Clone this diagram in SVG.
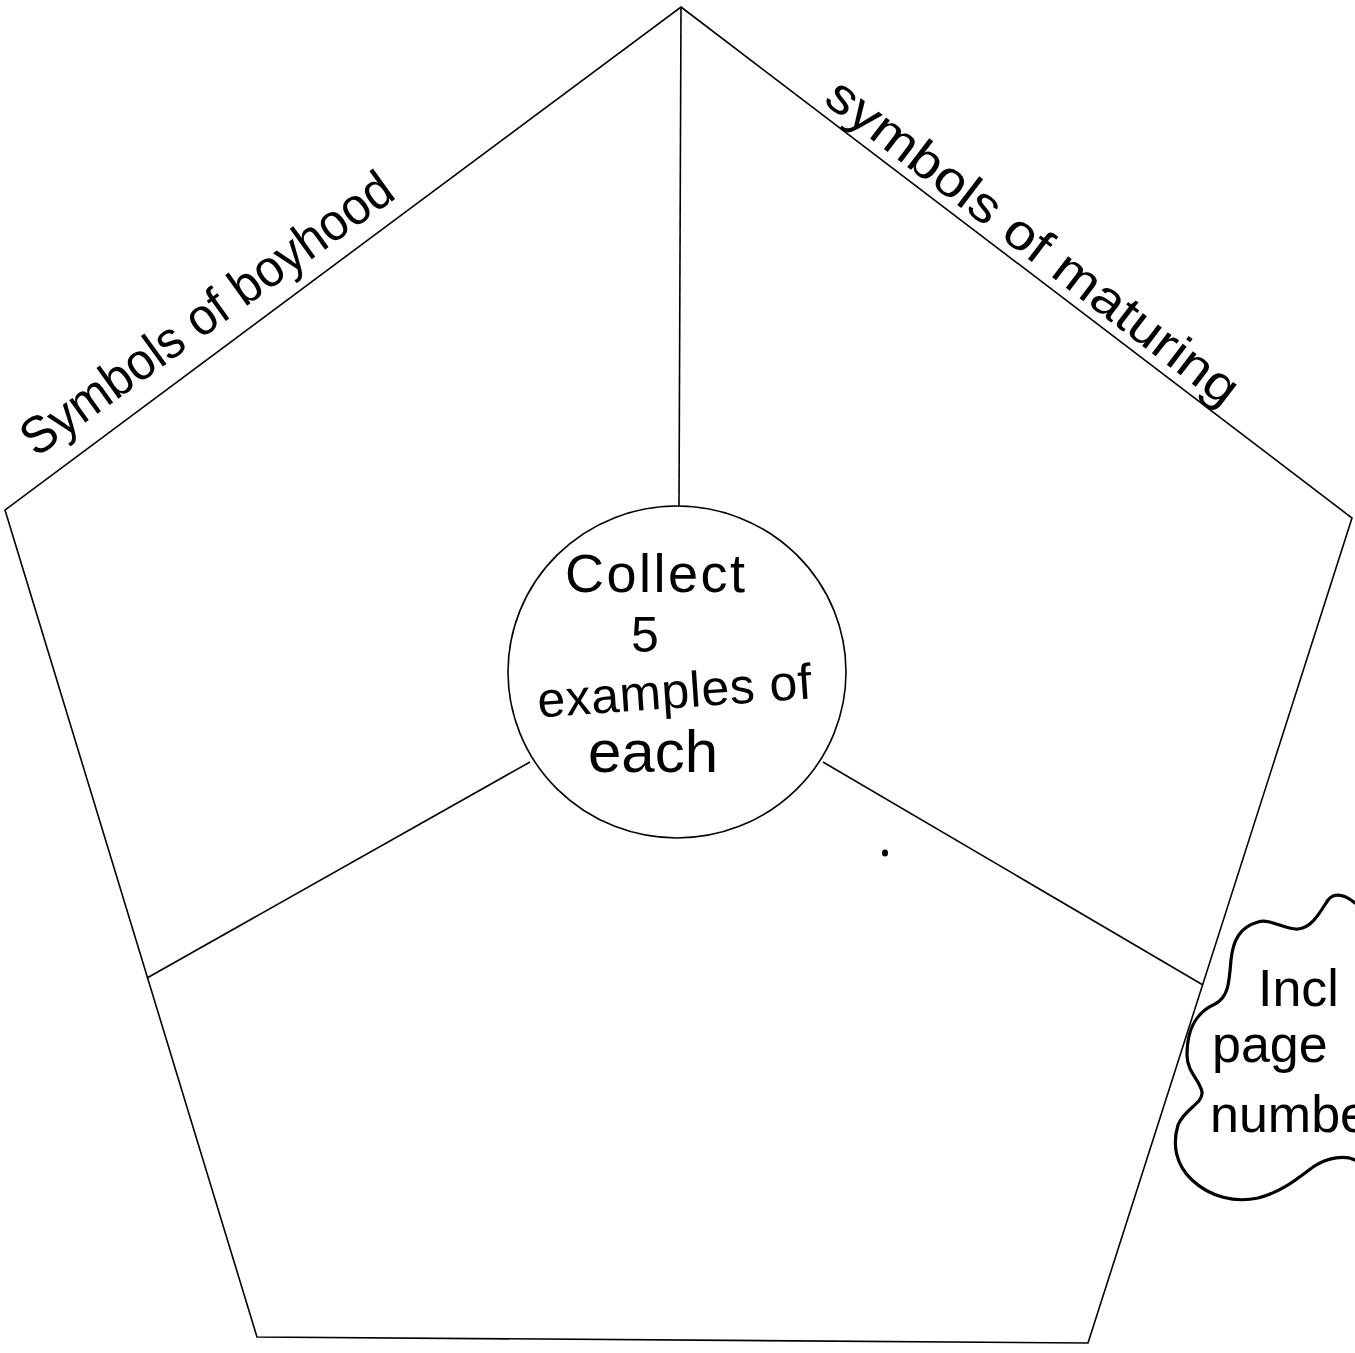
<svg xmlns="http://www.w3.org/2000/svg" width="1355" height="1353" viewBox="0 0 1355 1353">
<style>
.edge{fill:none;stroke:#000;stroke-width:1.6}
.hand{font-family:"Liberation Sans","DejaVu Sans",sans-serif;fill:#000}
.cloud{fill:none;stroke:#000;stroke-width:3.2;stroke-linecap:round}
</style>
<rect width="1355" height="1353" fill="#fff"/>
<g id="pentagon">
<polygon class="edge" points="681,7 1352,518 1088,1343 257,1337 5,510"/>
</g>
<g id="connectors">
<line class="edge" x1="681" y1="7" x2="679" y2="506"/>
<line class="edge" x1="530" y1="762" x2="147" y2="978"/>
<line class="edge" x1="823" y1="762" x2="1203" y2="985"/>
</g>
<g id="center">
<ellipse class="edge" cx="677" cy="672" rx="169" ry="166"/>
<text class="hand" x="655" y="592" font-size="54" text-anchor="middle" textLength="180">Collect</text>
<text class="hand" x="645" y="652" font-size="50" text-anchor="middle">5</text>
<text class="hand" x="675" y="708" font-size="50" text-anchor="middle" textLength="275" transform="rotate(-4 675 700)">examples of</text>
<text class="hand" x="653" y="772" font-size="60" text-anchor="middle">each</text>
</g>
<g id="label-boyhood">
<text class="hand" x="36" y="458" font-size="52" textLength="446" lengthAdjust="spacingAndGlyphs" transform="rotate(-35.8 36 458)">Symbols of boyhood</text>
</g>
<g id="label-maturing">
<text class="hand" x="822" y="102" font-size="50" textLength="505" lengthAdjust="spacingAndGlyphs" transform="rotate(37.3 822 102)">symbols of maturing</text>
</g>
<g id="note">
<path class="cloud" d="M1355,903 C1345,895 1335,892 1328,900 C1320,912 1312,928 1298,929 C1285,930 1270,918 1258,922 C1240,927 1233,940 1231,960 C1229,985 1228,997 1215,1004 C1195,1013 1187,1030 1187,1055 C1187,1072 1200,1080 1202,1092 C1203,1104 1185,1108 1178,1125 C1172,1145 1176,1165 1192,1180 C1210,1197 1235,1203 1258,1198 C1282,1192 1298,1178 1313,1167 C1328,1157 1345,1155 1355,1160"/>
<text class="hand" x="1258" y="1006" font-size="52">Incl</text>
<text class="hand" x="1212" y="1062" font-size="52">page</text>
<text class="hand" x="1210" y="1132" font-size="52">numbe</text>
</g>
<ellipse cx="885" cy="853" rx="3" ry="3.6" fill="#000"/>
</svg>
